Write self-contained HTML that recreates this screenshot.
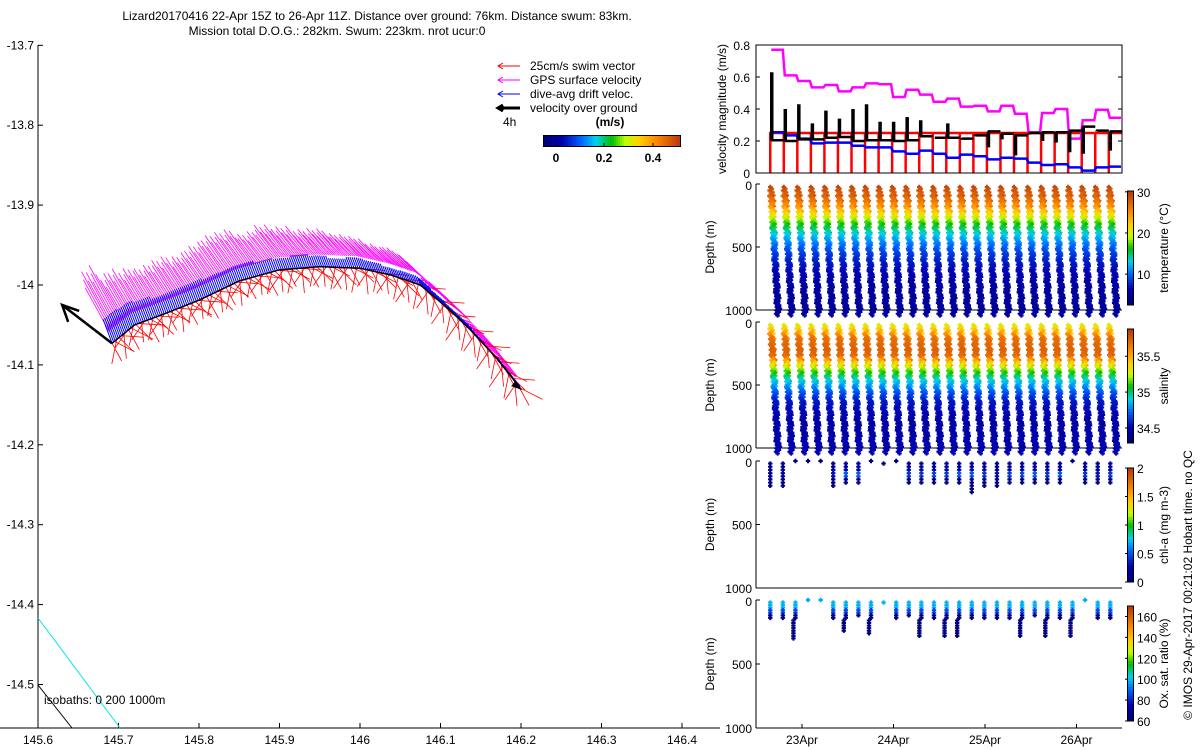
<!DOCTYPE html>
<html><head><meta charset="utf-8"><style>
body{margin:0;background:#fff}
svg{display:block;font-family:"Liberation Sans",sans-serif}
</style></head><body>
<svg id="c" width="1200" height="750" viewBox="0 0 1200 750"></svg>
<script>
// ---------- DATA ----------
const trackLon=[145.692,145.72,145.76,145.80,145.85,145.90,145.95,146.0,146.04,146.075,146.11,146.137,146.17,146.199];
const trackLat=[-14.073,-14.05,-14.035,-14.019,-13.995,-13.981,-13.977,-13.979,-13.988,-14.0,-14.03,-14.056,-14.092,-14.129];
const gpsVel=[0.77,0.61,0.575,0.535,0.55,0.51,0.535,0.56,0.555,0.475,0.52,0.49,0.445,0.465,0.415,0.42,0.385,0.42,0.37,0.255,0.375,0.40,0.215,0.33,0.395,0.345];
const driftVel=[0.255,0.235,0.215,0.185,0.19,0.19,0.17,0.16,0.16,0.135,0.12,0.14,0.12,0.095,0.115,0.105,0.085,0.095,0.09,0.065,0.05,0.055,0.035,0.015,0.035,0.04];
const groundVel=[0.205,0.20,0.21,0.21,0.22,0.225,0.20,0.205,0.205,0.20,0.205,0.23,0.22,0.22,0.215,0.235,0.26,0.245,0.235,0.25,0.255,0.255,0.265,0.29,0.265,0.26];
const groundSpike=[0.63,0.40,0.43,0.31,0.39,0.34,0.40,0.43,0.32,0.32,0.35,0.33,0.22,0.31,0.22,0.23,0.16,0.21,0.11,0.24,0.20,0.19,0.13,0.12,0.26,0.14];
const swimVel=0.25;
const diveStart=22.653, diveStep=0.148;
const tempDepth=[0,100,150,200,250,300,400,500,600,800,1000];
const tempVal=[29.5,27,25,22,19,16,12,9,7,5,4.5];
const salDepth=[0,50,100,200,250,300,400,500,600,800,1000];
const salVal=[35.3,35.5,35.7,35.75,35.7,35.4,35.0,34.75,34.55,34.45,34.5];
const chlMaxDepth=[200,200,0,0,0,200,180,180,0,40,0,170,170,180,180,170,250,200,200,170,170,180,190,170,0,170,180,170];
const chlSurf=[0.2,0.2,0.1,0.1,0.1,0.3,0.5,0.5,0.1,0.1,0.1,0.4,0.4,0.45,0.4,0.5,0.5,0.4,0.3,0.4,0.45,0.5,0.4,0.5,0.1,0.4,0.3,0.4];
const oxyMaxDepth=[140,150,300,0,0,140,250,120,270,30,140,120,290,150,290,280,150,140,150,140,290,130,290,150,280,0,150,140];
const mapXTicks=[145.6,145.7,145.8,145.9,146,146.1,146.2,146.3,146.4];
const mapYTicks=[-13.7,-13.8,-13.9,-14,-14.1,-14.2,-14.3,-14.4,-14.5];
const dayTicks=[23,24,25,26];
const dayLabels=["23Apr","24Apr","25Apr","26Apr"];
const velTicks=[0,0.2,0.4,0.6,0.8];
const depthTicks=[0,500,1000];
// ---------- HELPERS ----------
const S=document.getElementById('c');const NS='http://www.w3.org/2000/svg';
function mk(t,a,p){const e=document.createElementNS(NS,t);for(const k in a)e.setAttribute(k,a[k]);(p||S).appendChild(e);return e;}
function tx(x,y,s,o){o=o||{};const e=mk('text',Object.assign({x:x,y:y,'font-size':o.fs||12,fill:o.fill||'#000','text-anchor':o.a||'start'},o.extra||{}),o.p);e.textContent=s;return e;}
const cmS=[0,0.13,0.27,0.38,0.5,0.6,0.7,0.82,1];
const cmC=[[0,0,120],[0,0,175],[0,100,255],[0,210,240],[0,190,0],[190,255,0],[255,210,0],[255,140,0],[190,60,10]];
function jet(v){v=Math.max(0,Math.min(1,v));for(let i=1;i<cmS.length;i++){if(v<=cmS[i]){const f=(v-cmS[i-1])/(cmS[i]-cmS[i-1]);const c=cmC[i-1].map((a,j)=>Math.round(a+f*(cmC[i][j]-a)));return `rgb(${c})`;}}return 'rgb(190,60,10)';}
function interp(xs,ys,x){for(let i=1;i<xs.length;i++){if(x<=xs[i]){const f=(x-xs[i-1])/(xs[i]-xs[i-1]);return ys[i-1]+f*(ys[i]-ys[i-1]);}}return ys[ys.length-1];}
const mx=l=>38+(l-145.6)*805, my=la=>285-(la+14)*799;
const tX=d=>802+(d-23)*91.5;
// ---------- TITLE ----------
let t1=tx(377,20,'Lizard20170416 22-Apr 15Z to 26-Apr 11Z. Distance over ground: 76km. Distance swum: 83km.',{a:'middle'});

let t2=tx(337,35,'Mission total D.O.G.: 282km. Swum: 223km. nrot ucur:0',{a:'middle'});

// ---------- MAP ----------
const mapG=mk('g',{});
mk('line',{x1:38,y1:45,x2:38,y2:728,stroke:'#000'},mapG);
mk('line',{x1:0,y1:728,x2:720,y2:728,stroke:'#000'},mapG);
mapXTicks.forEach(v=>{const x=mx(v);mk('line',{x1:x,y1:728,x2:x,y2:723,stroke:'#000'},mapG);const e=tx(x,744,String(v),{a:'middle',p:mapG});});
mapYTicks.forEach(v=>{const y=my(v);mk('line',{x1:38,y1:y,x2:43,y2:y,stroke:'#000'},mapG);const e=tx(34,y+4,String(v),{a:'end',p:mapG});});
mk('line',{x1:38,y1:618,x2:120,y2:728,stroke:'#00e5ee'},mapG);
mk('line',{x1:38,y1:685,x2:72,y2:728,stroke:'#000'},mapG);
let iso=tx(44,704,'isobaths: 0   200  1000m',{p:mapG});
const tp=trackLon.map((l,i)=>[mx(l),my(trackLat[i])]);
let cum=[0];for(let i=1;i<tp.length;i++)cum.push(cum[i-1]+Math.hypot(tp[i][0]-tp[i-1][0],tp[i][1]-tp[i-1][1]));
const L=cum[cum.length-1];
function at(s){for(let i=1;i<tp.length;i++){if(s<=cum[i]){const f=(s-cum[i-1])/(cum[i]-cum[i-1]);return[tp[i-1][0]+f*(tp[i][0]-tp[i-1][0]),tp[i-1][1]+f*(tp[i][1]-tp[i-1][1])];}}return tp[tp.length-1];}
const vecG=mk('g',{});
const nd=gpsVel.length, SC=100;
const perM=9;
for(let k=0;k<nd*perM;k++){
  const i=Math.floor(k/perM);const p=at(L*k/(nd*perM-1));
  const mg=gpsVel[i]*SC*(0.8+0.2*((k*7)%5)/4);const a=-0.45-0.25*(k/(nd*perM));
  const ln=mk('line',{x1:p[0]-3,y1:p[1]-12,x2:p[0]+Math.sin(a)*mg,y2:p[1]-Math.cos(a)*mg,stroke:'#ff00ff','stroke-width':0.8},vecG);
  
}
const perR=6;
for(let k=0;k<nd*perR;k++){
  const p=at(L*k/(nd*perR-1));
  const a=[0.5,1.1,-0.2,0.8,1.5,0.1,-0.6][k%7];const r=swimVel*SC*(0.8+0.1*(k%3));
  const ln=mk('line',{x1:p[0],y1:p[1],x2:p[0]+Math.sin(a)*r,y2:p[1]+Math.cos(a)*r,stroke:'#ff0000','stroke-width':0.8},vecG);
  
}
const perB=9;
for(let k=0;k<nd*perB;k++){
  const i=Math.floor(k/perB);const p=at(L*k/(nd*perB-1));
  const r=driftVel[i]*SC;
  const ln=mk('line',{x1:p[0],y1:p[1],x2:p[0]-0.35*r,y2:p[1]-0.94*r,stroke:'#0000ff','stroke-width':1},vecG);
  
}
let trk=mk('polyline',{points:tp.map(p=>p.join(',')).join(' '),fill:'none',stroke:'#000','stroke-width':1.5});

const ax0=tp[0],ax1=[mx(145.63),my(-14.025)];
let ga=mk('g',{});
mk('line',{x1:ax0[0],y1:ax0[1],x2:ax1[0],y2:ax1[1],stroke:'#000','stroke-width':2.5},ga);
mk('polyline',{points:`${ax1[0]+17},${ax1[1]+6} ${ax1[0]},${ax1[1]} ${ax1[0]+6},${ax1[1]+17}`,fill:'none',stroke:'#000','stroke-width':2.5},ga);
const te=tp[tp.length-1];mk('polygon',{points:`${te[0]+2},${te[1]+2} ${te[0]-9},${te[1]-2} ${te[0]-5},${te[1]-7}`,fill:'#000'},ga);
const lg=mk('g',{});
[['25cm/s swim vector','#ff0000',1],['GPS surface velocity','#ff00ff',1],['dive-avg drift veloc.','#0000ff',1],['velocity over ground','#000',3]].forEach((d,i)=>{
 const y=66+i*14;const g=mk('g',{},lg);
 mk('line',{x1:498,y1:y,x2:520,y2:y,stroke:d[1],'stroke-width':d[2]},g);
 mk('polyline',{points:`${503},${y-3} ${498},${y} ${503},${y+3}`,fill:'none',stroke:d[1],'stroke-width':d[2]},g);
 tx(530,y+4,d[0],{p:g});
});
tx(503,126,'4h',{p:lg});
tx(610,126,'(m/s)',{a:'middle',p:lg,extra:{'font-weight':'bold'}});
const cb=mk('g',{});
for(let i=0;i<68;i++)mk('rect',{x:544+i*2,y:136,width:2.2,height:10,fill:jet(i/67)},cb);
mk('rect',{x:543.5,y:135.5,width:137,height:11,fill:'none',stroke:'#000'},cb);
[[0,556],[0.2,604],[0.4,653]].forEach(d=>{mk('line',{x1:d[1],y1:146,x2:d[1],y2:143,stroke:'#000'},cb);tx(d[1],162,String(d[0]),{a:'middle',p:cb,extra:{'font-weight':'bold'}});});
// ---------- VELOCITY PANEL ----------
const vT=45,vB=173,vL=756,vR=1122;const vy=v=>vB-v/0.8*(vB-vT);
const vp=mk('g',{});
velTicks.forEach(v=>{mk('line',{x1:vL,y1:vy(v),x2:vL+4,y2:vy(v),stroke:'#000'},vp);mk('line',{x1:vR,y1:vy(v),x2:vR-4,y2:vy(v),stroke:'#000'},vp);tx(vL-6,vy(v)+5,String(v),{a:'end',p:vp});});
let yl=tx(0,0,'velocity magnitude (m/s)',{a:'middle',p:vp,extra:{transform:`translate(726,${(vT+vB)/2}) rotate(-90)`}});

function stepPath(arr,fy){let d='';arr.forEach((v,i)=>{const x0=tX(diveStart+i*diveStep),x1=Math.min(vR,tX(diveStart+(i+1)*diveStep));d+=(i?'L':'M')+(x0+1)+','+fy(v)+'L'+(x1-1)+','+fy(v);});return d;}
let rd='';for(let i=0;i<nd;i++){const x0=tX(diveStart+i*diveStep),x1=Math.min(vR,tX(diveStart+(i+1)*diveStep));rd+=`M${x0},${vy(0)}L${x0},${vy(swimVel)}L${x1},${vy(swimVel)}`;}
let rp=mk('path',{d:rd,fill:'none',stroke:'#ff0000','stroke-width':2.5},vp);
let mp=mk('path',{d:stepPath(gpsVel,vy),fill:'none',stroke:'#ff00ff','stroke-width':2.5},vp);
let bp=mk('path',{d:stepPath(driftVel,vy),fill:'none',stroke:'#0000ff','stroke-width':2.5},vp);
let kd='';groundVel.forEach((v,i)=>{const x0=tX(diveStart+i*diveStep)+1,x1=Math.min(vR,tX(diveStart+(i+1)*diveStep));kd+=`M${x0},${vy(v)}L${x0},${vy(groundSpike[i])}M${x0+1},${vy(groundSpike[i])}L${x0+1},${vy(v)}L${x1},${vy(v)}`;});
let kp=mk('path',{d:kd,fill:'none',stroke:'#000','stroke-width':2.5},vp);
mk('rect',{x:vL,y:vT,width:vR-vL,height:vB-vT,fill:'none',stroke:'#000'},vp);
// ---------- DEPTH PANELS ----------
function panel(name,top,bot){const g=mk('g',{});
 mk('line',{x1:vL,y1:top,x2:vL,y2:bot,stroke:'#000'},g);mk('line',{x1:vL,y1:bot,x2:vR,y2:bot,stroke:'#000'},g);
 depthTicks.forEach(v=>{const y=top+v/1000*(bot-top);mk('line',{x1:vL,y1:y,x2:vL+4,y2:y,stroke:'#000'},g);tx(vL-4,y+(v===0?6:5),String(v),{a:'end',p:g});});
 tx(0,0,'Depth (m)',{a:'middle',p:g,extra:{transform:`translate(714,${(top+bot)/2}) rotate(-90)`}});return g;}
function colorbar(g,top,bot,lo,hi,ticks,label){const n=40,h=(bot-top)/n;for(let i=0;i<n;i++)mk('rect',{x:1128,y:bot-(i+1)*h,width:5,height:h+0.5,fill:jet(i/(n-1))},g);
 mk('rect',{x:1127.5,y:top,width:6,height:bot-top,fill:'none',stroke:'#000'},g);
 ticks.forEach(v=>{const y=bot-(v-lo)/(hi-lo)*(bot-top);mk('line',{x1:1127,y1:y,x2:1125,y2:y,stroke:'#000'},g);tx(1137,y+5,String(v),{p:g});});
 tx(0,0,label,{a:'middle',p:g,extra:{transform:`translate(1168,${(top+bot)/2}) rotate(-90)`}});}
function plus(g,x,y,c,r){r=r||2.2;mk('path',{d:`M${x-r},${y}h${2*r}M${x},${y-r}v${2*r}`,stroke:c,'stroke-width':2},g);}
function profilePanel(name,top,bot,dep,val,lo,hi,ticks,label){
 const g=panel(name,top,bot);const dy=d=>top+d/1000*(bot-top);
 for(let i=0;i<nd;i++){const x0=tX(diveStart+i*diveStep);
  for(let d=0;d<=980;d+=14){const v=interp(dep,val,d);const c=jet((v-lo)/(hi-lo));
   const j=[0,1.5,-1,2,0.5,-1.5][Math.floor(d/14)%6];
   const xa=x0+d/1000*8+j, xb=x0+2+d/1000*6-j;
   if(xa<vR-2)plus(g,xa,dy(d)+3,c);if(xb<vR-2&&d>20)plus(g,xb,dy(d)+8,c);}}
 colorbar(g,top+7,bot-5,lo,hi,ticks,label);}
profilePanel('temperature-panel',184,310,tempDepth,tempVal,2.5,30.2,[10,20,30],'temperature (°C)');
profilePanel('salinity-panel',322,448,salDepth,salVal,34.29,35.88,[34.5,35,35.5],'salinity');
(function(){const top=461,bot=588;const g=panel('chlorophyll-panel',top,bot);const dy=d=>top+d/1000*(bot-top);
 chlMaxDepth.forEach((m,i)=>{const x0=tX(diveStart+i*diveStep*0.93);if(x0>vR-2)return;
  for(let d=(m===0?0:20);d<=m;d+=25){const v=d<80?chlSurf[i]*0.4:(d<130?chlSurf[i]:0.05);plus(g,x0,dy(d),jet(v/2));}});
 colorbar(g,468,582,0,2,[0,0.5,1,1.5,2],'chl-a (mg m-3)');})();
(function(){const top=600,bot=728;const g=panel('oxygen-panel',top,bot);const dy=d=>top+d/1000*(bot-top);
 oxyMaxDepth.forEach((m,i)=>{const x0=tX(diveStart+i*diveStep*0.93);if(x0>vR-2)return;
  for(let d=(m===0?0:20);d<=m;d+=20){const v=d<70?98:(d<120?85:62);plus(g,x0+(d>150?-2:0),dy(d),jet((v-60)/(170-60)));}});
 colorbar(g,606,721,60,170,[60,80,100,120,140,160],'Ox. sat. ratio (%)');})();
const xg=mk('g',{});
dayTicks.forEach((d,i)=>{const x=tX(d);mk('line',{x1:x,y1:728,x2:x,y2:724,stroke:'#000'},xg);tx(x,744,dayLabels[i],{a:'middle',p:xg});});
let cr=tx(0,0,'© IMOS 29-Apr-2017 00:21:02 Hobart time. no QC',{a:'middle',extra:{transform:'translate(1192,585) rotate(-90)'}});

</script>
</body></html>
